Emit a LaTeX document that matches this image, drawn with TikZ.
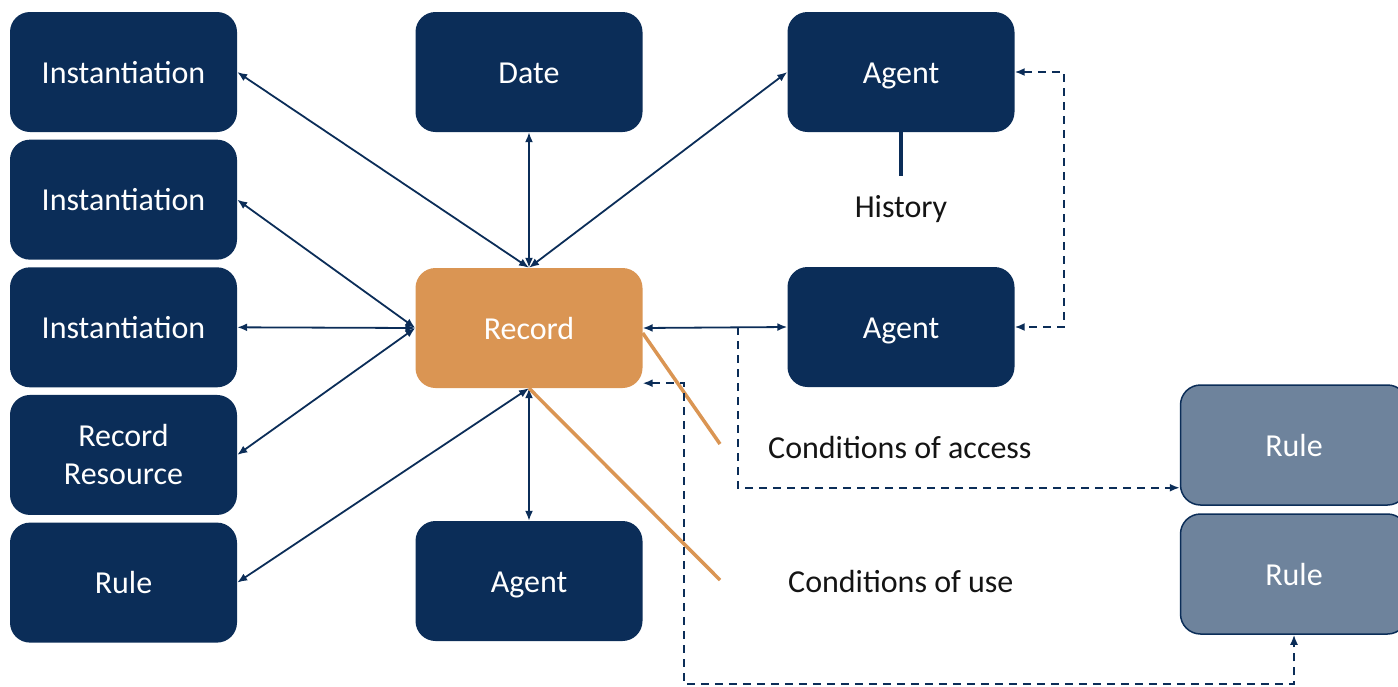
\documentclass[tikz,border=0pt]{standalone}
\usepackage{fontspec}
\setmainfont{Carlito}
\usetikzlibrary{positioning,calc,arrows.meta}
\definecolor{navy}{HTML}{0B2D58}
\definecolor{orng}{HTML}{DA9553}
\definecolor{slate}{HTML}{6E839C}
\definecolor{ink}{HTML}{141414}

\begin{document}
\begin{tikzpicture}[x=1pt,y=-1pt,node distance=7.25pt,font=\fontsize{32}{38}\selectfont,
	plainbox/.style={fill=navy,text=white,rounded corners=20pt,minimum width=227pt,minimum height=120pt,inner sep=0pt,align=center},
	darkbox/.style={plainbox,text height=22pt,text depth=0pt},
	recbox/.style={darkbox,fill=orng},
	rulebox/.style={darkbox,fill=slate,draw=navy,line width=1.5pt},
	lbl/.style={text=ink,inner sep=0pt},
	link/.style={navy,line width=1.8pt,{Latex[length=10pt,width=8pt]}-{Latex[length=10pt,width=8pt]}},
	dlink/.style={navy,line width=1.8pt,dash pattern=on 8pt off 6pt},
	orline/.style={orng,line width=3.5pt},
	histline/.style={navy,line width=3.5pt}]
	\useasboundingbox (0,0) rectangle (1398,686);
	% left column
	\node[darkbox]                 (inst1) at (123.5,72) {Instantiation};
	\node[darkbox,below=of inst1]  (inst2) {Instantiation};
	\node[darkbox,below=of inst2]  (inst3) {Instantiation};
	\node[plainbox,below=of inst3] (res)   {Record\\Resource};
	\node[darkbox,below=of res]    (rulel) {Rule};
	% middle and right
	\node[darkbox] (date)  at (529,72)  {Date};
	\node[recbox]  (rec)   at (529,328) {Record};
	\node[darkbox] (agbot) at (529,581) {Agent};
	\node[darkbox] (ag1)   at (901,72)  {Agent};
	\node[darkbox] (ag2)   at (901,327) {Agent};
	\node[rulebox]                      (rule1) at (1294,445) {Rule};
	\node[rulebox,below=7.5pt of rule1] (rule2) {Rule};
	% labels
	\node[lbl,anchor=base]      (hist) at (901,217) {History};
	\node[lbl,anchor=base west] (acc)  at (768,458) {Conditions of access};
	\node[lbl,anchor=base west] (use)  at (788,592) {Conditions of use};
	\coordinate (histend) at (901,176);
	\coordinate (accend)  at (720,444);
	\coordinate (useend)  at (720,580);
	\coordinate (accsplit) at ($(rec.east)!0.657!(ag2.west)$);
	\coordinate (r1in) at ([yshift=18pt]rule1.south west);
	\coordinate (recin) at ([yshift=5pt]rec.south east);
	\path[link]
		(inst1.east) edge (rec.north)
		(date.south) edge (rec.north)
		(ag1.west)   edge (rec.north)
		(inst2.east) edge (rec.west)
		(inst3.east) edge (rec.west)
		(res.east)   edge (rec.west)
		(rulel.east) edge (rec.south)
		(agbot.north) edge (rec.south)
		(rec.east)   edge (ag2.west)
	; %-path-%
	\draw[histline] (ag1.south) -- (histend);
	\draw[orline] ([yshift=-5pt]rec.east) -- (accend);
	\draw[orline] (rec.south) -- (useend);
	\draw[dlink,{Latex[length=10pt,width=8pt]}-{Latex[length=10pt,width=8pt]}] (ag1.east) -- ++(49,0) |- (ag2.east);
	\draw[dlink,-{Latex[length=10pt,width=8pt]}] (accsplit) |- (r1in);
	\draw[dlink,{Latex[length=10pt,width=8pt]}-{Latex[length=10pt,width=8pt]}] (recin) -- ++(41,0) -- ++(0,301) -| (rule2.south);
\end{tikzpicture}
\end{document}
